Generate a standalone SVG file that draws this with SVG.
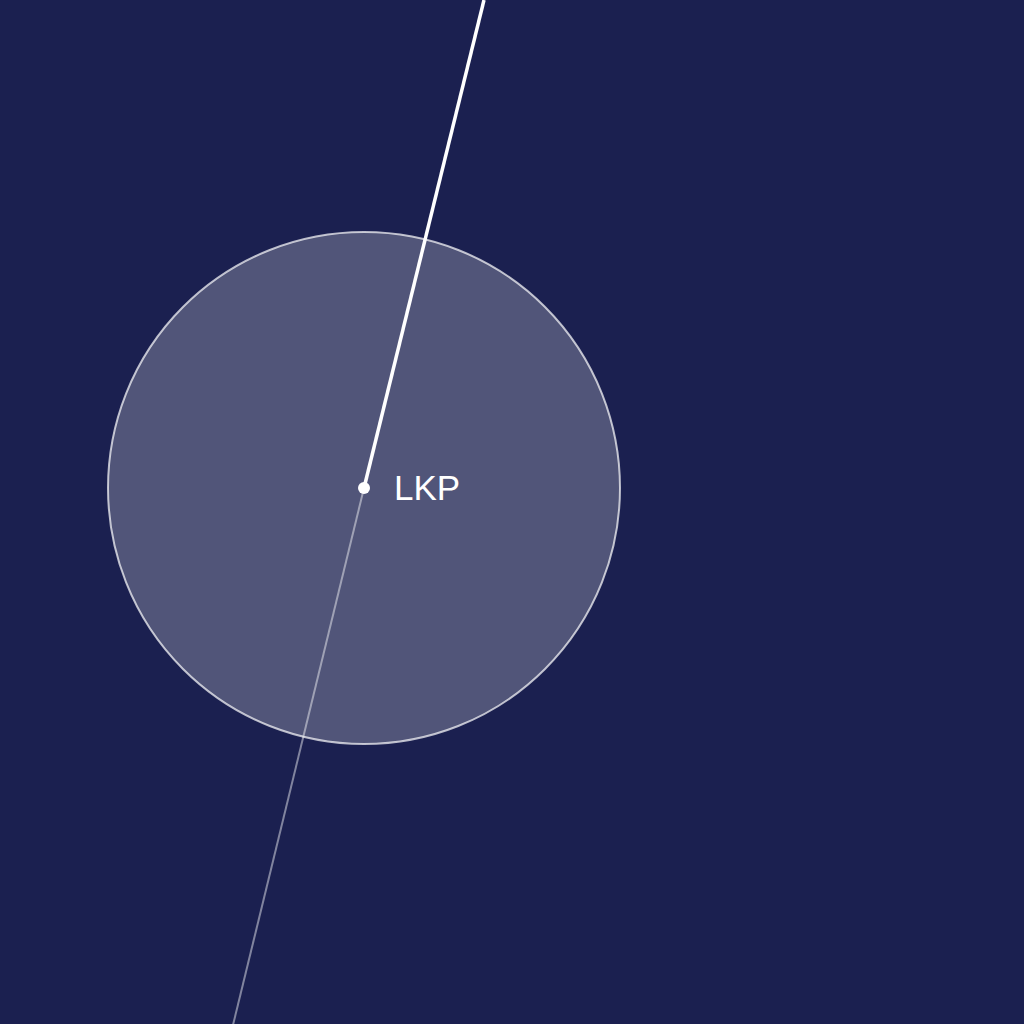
<svg xmlns="http://www.w3.org/2000/svg" width="1024" height="1024" viewBox="0 0 1024 1024">
<style>
.label{font-family:"Liberation Sans",Arial,sans-serif;font-size:35px;fill:#ffffff}
</style>
<rect width="1024" height="1024" fill="#1b2050"/>
<g id="zone">
<circle cx="364" cy="488" r="256" fill="#ffffff" fill-opacity="0.24" stroke="#ffffff" stroke-opacity="0.7" stroke-width="2"/>
</g>
<g id="connectors">
<line x1="364" y1="488" x2="233" y2="1025" stroke="#ffffff" stroke-opacity="0.45" stroke-width="2"/>
<line x1="364" y1="488" x2="484" y2="0" stroke="#ffffff" stroke-width="3.5"/>
</g>
<g id="lkp">
<circle cx="364" cy="488" r="6" fill="#ffffff"/>
<text class="label" x="394" y="500">LKP</text>
</g>
</svg>
